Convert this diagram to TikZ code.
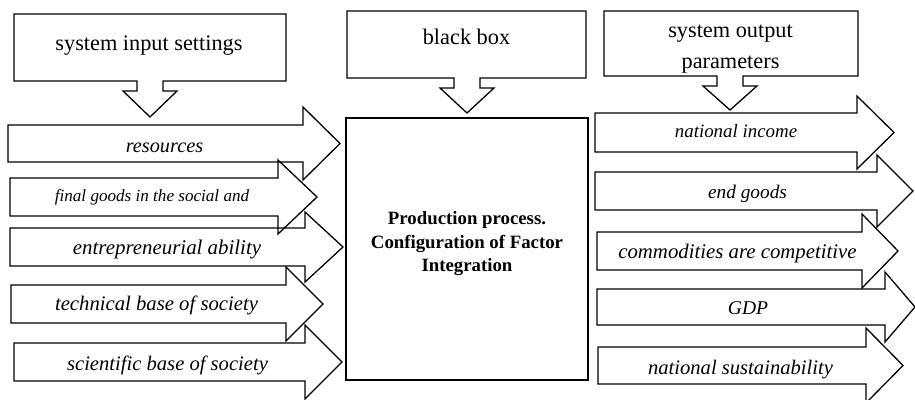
\documentclass[tikz,border=0pt]{standalone}
\usepackage{fontspec}
\setmainfont{Liberation Serif}

\tikzset{
  shapeline/.style={draw, line width=1.3pt, line join=miter},
  frame/.style={draw, line width=1.3pt, inner sep=0pt},
  caption/.style={inner sep=0pt, align=center, font=\fontsize{22.3}{31}\selectfont},
  factor/.style={anchor=base, inner sep=0pt, font=\fontsize{#1}{24}\selectfont\itshape},
  factor/.default=20.7,
}

% block arrow: left x, shaft end x, top y, bottom y, head extend, tip x
\newcommand{\blockarrow}[6]{%
  \draw[shapeline] (#1,#3) -- (#2,#3) -- (#2,#3-#5) -- (#6,{(#3+#4)/2})
    -- (#2,#4+#5) -- (#2,#4) -- (#1,#4) -- cycle;}

% box with a block arrow below: left x, right x, top y, bottom y, arrow x, tip y
\newcommand{\calloutbox}[6]{%
  \draw[shapeline] (#5-13,#4) -- (#1,#4) -- (#1,#3) -- (#2,#3) -- (#2,#4)
    -- (#5+13,#4) -- (#5+13,#4+10) -- (#5+27,#4+10) -- (#5,#6)
    -- (#5-27,#4+10) -- (#5-13,#4+10) -- cycle;}

\begin{document}
\begin{tikzpicture}[x=1pt, y=-1pt]
  \useasboundingbox (0,0) rectangle (915,399);

  % Top boxes
  \calloutbox{14}{286}{14}{81}{150}{117}
  \calloutbox{347}{586}{11}{78}{467}{113}
  \calloutbox{604}{858}{11}{76}{730}{110}
  \node[caption, anchor=base] (inset) at (149,50) {system input settings};
  \node[caption, anchor=base] (blackbox) at (466.5,44.3) {black box};
  \node[caption] (outpar) at (730.5,49.5) {system output\\parameters};

  % Production process
  \node[frame, minimum width=242pt, minimum height=262pt] (process) at (467,249) {};
  \node[inner sep=0pt, align=center, font=\fontsize{18.8}{23.5}\selectfont\bfseries]
    (processtext) at (467,244) {Production process.\\Configuration of Factor\\Integration};

  % Input arrows
  \blockarrow{8}{303}{125}{162}{18}{340}
  \blockarrow{10}{278}{178}{216}{18}{317}
  \blockarrow{10}{305}{228}{266}{16}{343}
  \blockarrow{11}{286}{285}{323}{18}{323}
  \blockarrow{14}{305}{343}{381}{18}{342}
  \node[factor=20.3] (resources) at (164.5,152) {resources};
  \node[factor=17.1] (goods) at (152,201) {final goods in the social and};
  \node[factor=20.9] (ability) at (167,254) {entrepreneurial ability};
  \node[factor] (technical) at (156.5,310) {technical base of society};
  \node[factor=20.6] (scientific) at (167.5,370) {scientific base of society};

  % Output arrows
  \blockarrow{595}{857}{113}{152}{17}{894}
  \blockarrow{595}{877}{172}{210}{17}{913}
  \blockarrow{597}{862}{232}{270}{18}{898}
  \blockarrow{597}{885}{289}{325}{17}{915}
  \blockarrow{598}{866}{347}{384}{19}{903}
  \node[factor=18.9] (income) at (736,137) {national income};
  \node[factor=19.3] (endgoods) at (747.5,198) {end goods};
  \node[factor=20.8] (compet) at (737.5,258) {commodities are competitive};
  \node[factor=19.5] (gdp) at (748,314) {GDP};
  \node[factor=20.6] (sustain) at (740.5,374) {national sustainability};
\end{tikzpicture}
\end{document}
